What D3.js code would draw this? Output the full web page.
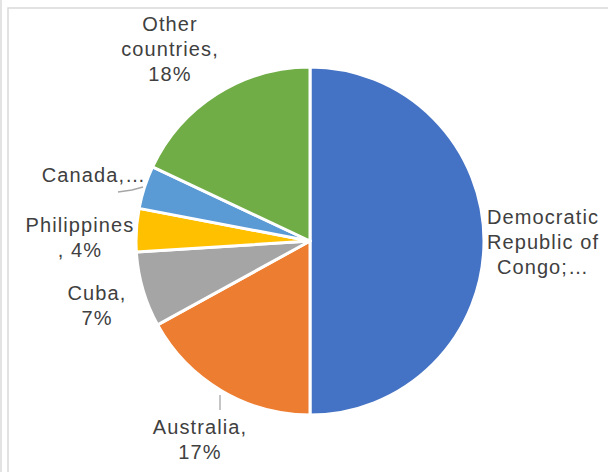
<!DOCTYPE html>
<html><head><meta charset="utf-8">
<script src="https://cdn.jsdelivr.net/npm/d3@7/dist/d3.min.js"></script>
<style>html,body{margin:0;padding:0;background:#fff;}svg{display:block;}</style>
</head><body>
<script>
const categories = ["Democratic Republic of Congo", "Australia", "Cuba", "Philippines", "Canada", "Other countries"];
const values = [50, 17, 7, 4, 4, 18];
const labelLines = [
  ["Democratic", "Republic of", "Congo;\u2026"],
  ["Australia,", "17%"],
  ["Cuba,", "7%"],
  ["Philippines", ", 4%"],
  ["Canada,\u2026"],
  ["Other", "countries,", "18%"]
];
const colors = ["#4472C4", "#ED7D31", "#A5A5A5", "#FFC000", "#5B9BD5", "#70AD47"];

// layout
const W = 608, H = 472;
const cx = 310, cy = 241, R = 174;
const labelPos = [
  {x: 543, y: 224}, {x: 200, y: 434}, {x: 97, y: 300},
  {x: 80, y: 232}, {x: 94, y: 182}, {x: 170, y: 31}
];
const leaders = {
  1: [[220, 395], [220, 410]],
  4: [[118, 192], [132, 190], [143, 187]]
};

const svg = d3.select("body").append("svg").attr("width", W).attr("height", H);
svg.append("rect").attr("width", W).attr("height", H).attr("fill", "#fff");
svg.append("line").attr("x1", 1).attr("x2", 1).attr("y1", 0).attr("y2", H)
  .attr("stroke", "#e3e3e3").attr("stroke-width", 2);
svg.append("rect").attr("x", 8).attr("y", 8).attr("width", 800).attr("height", 800)
  .attr("fill", "none").attr("stroke", "#d9d9d9").attr("stroke-width", 1.5);

const pie = d3.pie().sort(null).value(d => d)(values);
const arc = d3.arc().innerRadius(0).outerRadius(R);
const g = svg.append("g").attr("transform", `translate(${cx},${cy})`);
g.selectAll("path").data(pie).join("path")
  .attr("d", arc)
  .attr("fill", (d, i) => colors[i])
  .attr("stroke", "#fff").attr("stroke-width", 3).attr("stroke-linejoin", "round");

Object.entries(leaders).forEach(([k, pts]) => {
  svg.append("path").attr("d", d3.line()(pts)).attr("fill", "none")
    .attr("stroke", "#a6a6a6").attr("stroke-width", 1.3);
});

labelLines.forEach((lines, i) => {
  const t = svg.append("text")
    .attr("x", labelPos[i].x).attr("y", labelPos[i].y)
    .attr("text-anchor", "middle")
    .attr("font-family", "'Liberation Sans', Arial, sans-serif")
    .attr("font-size", 20).attr("letter-spacing", 1.1)
    .attr("fill", "#404040");
  lines.forEach((l, j) => {
    t.append("tspan").attr("x", labelPos[i].x).attr("dy", j === 0 ? 0 : 25).text(l);
  });
});
</script>
</body></html>
